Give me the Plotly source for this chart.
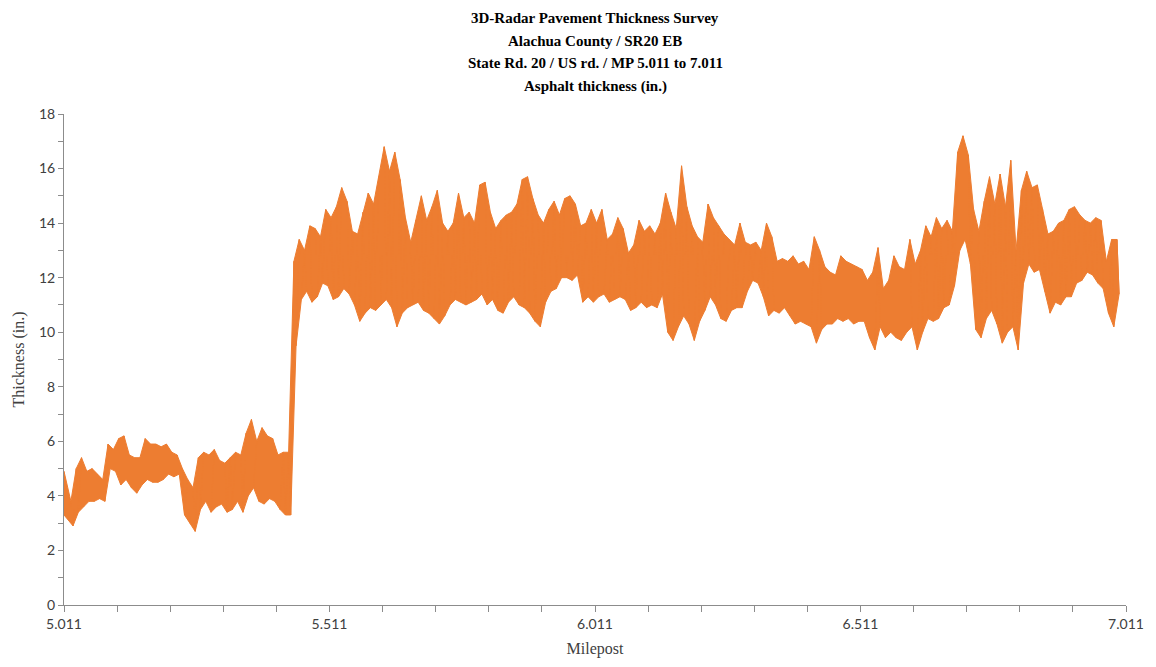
import plotly.graph_objects as go

# Survey sampled every 0.01 mile from MP 5.011; for each interval the
# peak and trough of the radar thickness reading (inches).
start_milepost = 5.011
interval_miles = 0.01

thickness_high = [
    4.9, 3.8, 5.0, 5.4, 4.9, 5.0, 4.8, 4.6, 5.9, 5.7,
    6.1, 6.2, 5.5, 5.4, 5.4, 6.1, 5.9, 5.9, 5.8, 5.9,
    5.6, 5.5, 5.0, 4.6, 4.3, 5.4, 5.6, 5.5, 5.7, 5.3,
    5.2, 5.4, 5.6, 5.5, 6.3, 6.8, 6.0, 6.5, 6.2, 6.1,
    5.5, 5.6, 5.6, 12.6, 13.4, 13.0, 13.9, 13.8, 13.5, 14.5,
    14.2, 14.6, 15.3, 14.8, 13.7, 13.6, 14.4, 15.1, 14.7, 15.7,
    16.8, 15.9, 16.6, 15.6, 14.2, 13.3, 14.1, 15.0, 14.1, 14.6,
    15.2, 14.0, 13.7, 14.0, 15.1, 14.2, 14.4, 14.0, 15.4, 15.5,
    14.4, 13.8, 14.1, 14.3, 14.4, 14.7, 15.6, 15.7, 14.9, 14.3,
    14.0, 14.5, 14.8, 14.3, 14.9, 15.0, 14.7, 13.9, 14.0, 14.5,
    14.0, 14.5, 13.4, 13.6, 14.2, 13.8, 12.9, 13.2, 14.1, 13.7,
    13.9, 13.6, 14.0, 15.1, 14.4, 13.8, 16.1, 14.6, 13.9, 13.5,
    13.3, 14.7, 14.2, 13.9, 13.6, 13.4, 13.2, 14.0, 13.3, 13.2,
    13.3, 13.0, 14.0, 13.5, 12.6, 12.7, 12.6, 12.8, 12.5, 12.6,
    12.3, 13.5, 13.0, 12.4, 12.2, 12.1, 12.8, 12.6, 12.5, 12.4,
    12.3, 11.9, 12.2, 13.1, 11.6, 11.9, 12.8, 12.4, 12.3, 13.4,
    12.5, 13.0, 13.9, 13.5, 14.2, 13.8, 14.1, 13.7, 16.6, 17.2,
    16.5, 14.5, 13.7, 14.8, 15.7, 14.7, 15.8, 14.6, 16.3, 13.0,
    15.2, 15.9, 15.3, 15.4, 14.5, 13.6, 13.7, 14.0, 14.1, 14.5,
    14.6, 14.3, 14.1, 14.0, 14.2, 14.1, 12.6, 13.4, 13.4,
]

thickness_low = [
    3.3, 2.9, 3.4, 3.6, 3.8, 3.8, 3.9, 3.8, 5.0, 4.9,
    4.4, 4.6, 4.3, 4.1, 4.4, 4.6, 4.5, 4.5, 4.6, 4.8,
    4.7, 4.8, 3.3, 3.0, 2.7, 3.5, 3.8, 3.4, 3.6, 3.7,
    3.4, 3.5, 3.8, 3.4, 4.0, 4.3, 3.8, 3.7, 3.9, 3.8,
    3.5, 3.3, 3.3, 9.5, 11.2, 11.5, 11.1, 11.3, 11.8, 11.7,
    11.2, 11.3, 11.6, 11.4, 11.0, 10.4, 10.7, 10.9, 10.8, 11.0,
    11.2, 10.9, 10.2, 10.7, 10.9, 11.0, 11.1, 10.8, 10.7, 10.5,
    10.3, 10.6, 11.0, 11.2, 11.1, 11.0, 11.1, 11.2, 11.4, 11.0,
    11.2, 10.8, 10.7, 11.1, 11.3, 11.0, 10.9, 10.7, 10.4, 10.2,
    11.1, 11.5, 11.6, 12.0, 12.0, 11.9, 12.1, 11.1, 11.3, 11.1,
    11.3, 11.4, 11.1, 11.2, 11.3, 11.2, 10.8, 10.9, 11.1, 10.9,
    11.0, 10.9, 11.4, 10.0, 9.7, 10.2, 10.6, 10.3, 9.7, 10.4,
    10.8, 11.3, 11.0, 10.5, 10.4, 10.8, 10.9, 10.9, 11.5, 11.9,
    11.8, 11.3, 10.6, 10.8, 10.7, 10.9, 10.6, 10.3, 10.4, 10.3,
    10.2, 9.6, 10.1, 10.3, 10.3, 10.5, 10.4, 10.5, 10.3, 10.4,
    10.4, 9.8, 9.35, 10.2, 9.8, 10.0, 9.8, 9.7, 10.0, 10.2,
    9.35, 10.0, 10.5, 10.4, 10.5, 10.9, 11.0, 11.7, 13.0, 13.4,
    12.5, 10.1, 9.8, 10.5, 10.8, 10.3, 9.6, 10.0, 10.2, 9.35,
    11.8, 12.5, 12.2, 12.3, 11.5, 10.7, 11.1, 11.0, 11.3, 11.3,
    11.8, 11.9, 12.2, 12.1, 11.8, 11.6, 10.7, 10.2, 11.4,
]

x_tick_values = [5.011, 5.111, 5.211, 5.311, 5.411, 5.511, 5.611, 5.711, 5.811,
                 5.911, 6.011, 6.111, 6.211, 6.311, 6.411, 6.511, 6.611, 6.711,
                 6.811, 6.911, 7.011]
x_tick_labels = ["5.011", "", "", "", "", "5.511", "", "", "", "",
                 "6.011", "", "", "", "", "6.511", "", "", "", "", "7.011"]
y_tick_values = list(range(0, 19))
y_tick_labels = [str(v) if v % 2 == 0 else "" for v in y_tick_values]

title_lines = [
    "3D-Radar Pavement Thickness Survey",
    "Alachua County / SR20 EB",
    "State Rd. 20 / US rd. / MP 5.011 to 7.011",
    "Asphalt thickness (in.)",
]

orange = "#ED7D31"

# Peak positions in each interval, then troughs walked back, closing a
# band that spans the full spread of the reading.
n = len(thickness_high)
x_high = [start_milepost + (i + 0.3) * interval_miles for i in range(n)]
x_low = [start_milepost + (i + 0.7) * interval_miles for i in range(n)]
x_high[0] = start_milepost
x_low[0] = start_milepost

band_x = x_high + x_low[::-1]
band_y = thickness_high + thickness_low[::-1]

# Peak-to-trough zigzag of the same readings, drawn over the band.
zig_x, zig_y = [], []
for xh, yh, xl, yl in zip(x_high, thickness_high, x_low, thickness_low):
    zig_x += [xh, xl]
    zig_y += [yh, yl]

fig = go.Figure()
fig.add_trace(go.Scatter(
    x=band_x, y=band_y,
    mode="lines",
    fill="toself",
    fillcolor=orange,
    line=dict(color=orange, width=1),
    hoverinfo="skip",
    showlegend=False,
))
fig.add_trace(go.Scatter(
    x=zig_x, y=zig_y,
    mode="lines",
    line=dict(color=orange, width=1),
    hoverinfo="x+y",
    showlegend=False,
))

axis_color = "#8c8c8c"
tick_font = dict(family="Lato, Open Sans, sans-serif", size=14, color="#404040")
serif = "Liberation Serif, Times New Roman, serif"

fig.update_xaxes(
    range=[5.011, 7.011],
    tickmode="array",
    tickvals=x_tick_values,
    ticktext=x_tick_labels,
    ticks="outside",
    ticklen=6,
    tickcolor=axis_color,
    showline=True,
    linecolor=axis_color,
    linewidth=1,
    showgrid=False,
    zeroline=False,
    tickfont=tick_font,
    title=dict(text="Milepost", font=dict(family=serif, size=16, color="#404040"),
               standoff=12),
)
fig.update_yaxes(
    range=[0, 18],
    tickmode="array",
    tickvals=y_tick_values,
    ticktext=y_tick_labels,
    ticks="outside",
    ticklen=5,
    tickcolor=axis_color,
    showline=True,
    linecolor=axis_color,
    linewidth=1,
    showgrid=False,
    zeroline=False,
    tickfont=tick_font,
    title=dict(text="Thickness (in.)", font=dict(family=serif, size=16, color="#404040"),
               standoff=10),
)

plot_top, plot_bottom = 114, 605
line_centers = [18, 41, 63, 86]
for text, yc in zip(title_lines, line_centers):
    fig.add_annotation(
        text="<b>" + text + "</b>",
        xref="paper", yref="paper",
        x=0.5, y=(plot_bottom - yc) / (plot_bottom - plot_top),
        xanchor="center", yanchor="middle",
        showarrow=False,
        font=dict(family=serif, size=15, color="#000000"),
    )

fig.update_layout(
    width=1156,
    height=667,
    margin=dict(l=64, r=28, t=114, b=62),
    paper_bgcolor="white",
    plot_bgcolor="white",
)

fig.write_html("out.html")
